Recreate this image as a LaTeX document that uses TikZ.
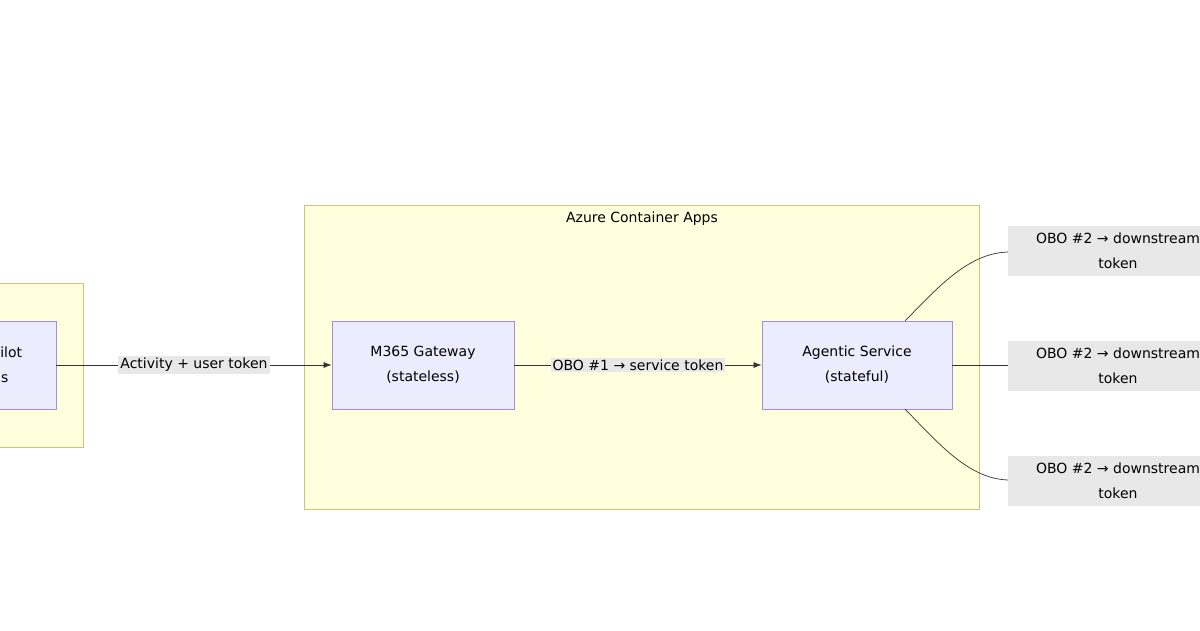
\documentclass[tikz,border=0pt]{standalone}
\usepackage{fontspec}
\setmainfont{DejaVu Sans}
\usetikzlibrary{positioning,arrows.meta}

\definecolor{grpfill}{HTML}{FFFFDE}
\definecolor{grpline}{HTML}{C8C87A}
\definecolor{boxfill}{HTML}{ECECFF}
\definecolor{boxline}{HTML}{A58DD8}
\definecolor{lblfill}{HTML}{E8E8E8}
\definecolor{edgecol}{HTML}{333333}

\tikzset{
    grp/.style={draw=grpline, fill=grpfill, line width=0.8pt},
    svc/.style={draw=boxline, fill=boxfill, line width=0.8pt, align=center, font=\fontsize{14}{25}\selectfont},
    lbl/.style={fill=lblfill, inner sep=2pt, align=center, font=\fontsize{14}{25}\selectfont},
    flow/.style={draw=edgecol, line width=0.7pt},
}

\begin{document}
\begin{tikzpicture}[x=1pt, y=-1pt]
    \useasboundingbox (0, 0) rectangle (1200, 630);
    \clip (0, 0) rectangle (1200, 630);
    \fill[white] (0, 0) rectangle (1200, 630);

    % groups
    \draw[grp] (-160, 283) rectangle (83, 447);
    \draw[grp] (304, 205) rectangle (979, 509);
    \node[font=\fontsize{14}{16}\selectfont] (aca) at (642, 219) {Azure Container Apps};

    % services
    \node[svc, minimum width=160, minimum height=88] (client) at (-24, 365) {M365 Copilot\\Channels};
    \node[svc, minimum width=182, minimum height=88] (gw) at (423, 365) {M365 Gateway\\(stateless)};
    \node[svc, minimum width=190, minimum height=88] (agent) at (857, 365) {Agentic Service\\(stateful)};

    \coordinate (d1) at (1300, 252);
    \coordinate (d2) at (1300, 365);
    \coordinate (d3) at (1300, 480);

    \draw[flow, -{Latex[length=8pt, width=6pt]}] (client) -- node[lbl] (l0) {Activity + user token} (gw);
    \draw[flow, -{Latex[length=8pt, width=6pt]}] (gw) -- node[lbl] (l1) {OBO \#1 → service token} (agent);

    \draw[flow] (905, 321) .. controls (940, 285) and (970, 252) .. (1010, 252) -- (d1);
    \draw[flow] (agent) -- (d2);
    \draw[flow] (905, 409) .. controls (940, 445) and (970, 480) .. (1010, 480) -- (d3);

    \node[lbl, minimum width=220, minimum height=50] (l2) at (1118, 251) {OBO \#2 → downstream\\token};
    \node[lbl, minimum width=220, minimum height=50] (l3) at (1118, 366) {OBO \#2 → downstream\\token};
    \node[lbl, minimum width=220, minimum height=50] (l4) at (1118, 481) {OBO \#2 → downstream\\token};
\end{tikzpicture}
\end{document}
